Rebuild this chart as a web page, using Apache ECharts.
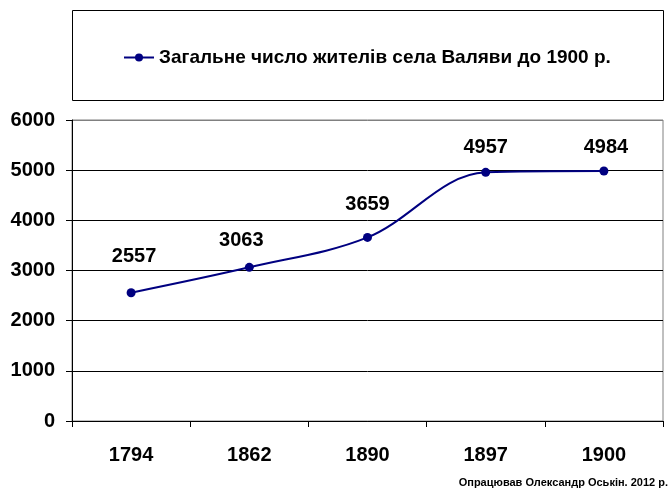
<!DOCTYPE html>
<html>
<head>
<meta charset="utf-8">
<script src="https://cdn.jsdelivr.net/npm/echarts@6/dist/echarts.min.js"></script>
<style>
html,body{margin:0;padding:0;background:#fff;}
#c{width:672px;height:497px;}
</style>
</head>
<body>
<div id="c"></div>
<script>
const categories = ['1794', '1862', '1890', '1897', '1900'];
const population = [2557, 3063, 3659, 4957, 4984];
const seriesName = 'Загальне число жителів села Валяви до 1900 р.';
const yTicks = { min: 0, max: 6000, interval: 1000 };
const footnote = 'Опрацював Олександр Оськін. 2012 р.';
// label placement tweaks (style only)
const labelOffsets = [[3, -17], [-8, -7], [0, -13], [0, -5], [2, -4]];

const FONT = '"Liberation Sans", Arial, sans-serif';
const chart = echarts.init(document.getElementById('c'), null, { renderer: 'canvas' });

chart.setOption({
  backgroundColor: '#fff',
  animation: false,
  grid: { left: 72, right: 9, top: 120, bottom: 76, show: true, borderColor: '#808080', borderWidth: 1, backgroundColor: 'transparent' },
  legend: {
    left: 118, top: 43,
    itemWidth: 30, itemHeight: 10, itemGap: 5,
    textStyle: { fontFamily: FONT, fontWeight: 'bold', fontSize: 19, color: '#000' },
    data: [seriesName]
  },
  graphic: [
    { type: 'rect', shape: { x: 72.5, y: 10.5, width: 591, height: 90 }, style: { fill: 'none', stroke: '#000', lineWidth: 1 }, z: 0 },
    { type: 'text', right: 4, top: 477, style: { text: footnote, font: 'bold 11px ' + FONT, fill: '#000' } }
  ],
  xAxis: {
    type: 'category',
    data: categories,
    boundaryGap: true,
    axisLine: { lineStyle: { color: '#000', width: 1 } },
    axisTick: { show: true, length: 6, lineStyle: { color: '#000' } },
    axisLabel: { margin: 24, fontFamily: FONT, fontWeight: 'bold', fontSize: 20, color: '#000' },
    splitLine: { show: false }
  },
  yAxis: {
    type: 'value',
    min: yTicks.min, max: yTicks.max, interval: yTicks.interval,
    axisLine: { show: true, lineStyle: { color: '#000', width: 1 } },
    axisTick: { show: true, length: 6, lineStyle: { color: '#000' } },
    axisLabel: { margin: 17, fontFamily: FONT, fontWeight: 'bold', fontSize: 20, color: '#000', formatter: v => String(v) },
    splitLine: { show: true, lineStyle: { color: ['#000', '#000', '#000', '#000', '#000', '#000', '#808080'], width: 1 } }
  },
  series: [{
    name: seriesName,
    type: 'line',
    smooth: 0.35,
    data: population.map((v, i) => ({ value: v, label: { offset: labelOffsets[i] } })),
    symbol: 'circle',
    symbolSize: 9,
    lineStyle: { color: '#000080', width: 2 },
    itemStyle: { color: '#000080' },
    label: { show: true, position: 'top', distance: 5, fontFamily: FONT, fontWeight: 'bold', fontSize: 20, color: '#000' },
    z: 5
  }]
});
</script>
</body>
</html>
